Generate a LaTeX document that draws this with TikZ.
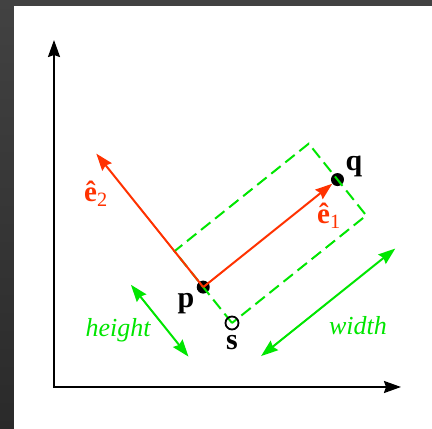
\documentclass[tikz,border=0pt]{standalone}
\usepackage{fontspec}
\setmainfont{Liberation Serif}
\usetikzlibrary{arrows.meta,positioning}
\definecolor{vecred}{RGB}{255,50,0}
\definecolor{boxgreen}{RGB}{0,230,0}

\begin{document}
\begin{tikzpicture}[x=1pt, y=1pt, >={Stealth[length=17pt, width=12pt, inset=2pt]},
  every node/.style={font=\fontsize{26}{30}\selectfont},
  ptlabel/.style={font=\fontsize{30}{34}\selectfont\bfseries},
  veclabel/.style={font=\fontsize{29}{33}\selectfont, text=vecred},
  dot/.style={circle, fill=black, inner sep=0pt, minimum size=13pt},
  hollow/.style={circle, draw=black, line width=1.8pt, inner sep=0pt, minimum size=13pt},
  axis/.style={<->, line width=2pt},
  unitvec/.style={->, draw=vecred, line width=2pt},
  extent/.style={<->, draw=boxgreen, line width=2pt},
  boxline/.style={draw=boxgreen, line width=2pt, dash pattern=on 12pt off 6pt}]
\shade[top color={rgb,255:red,66;green,66;blue,66}, bottom color={rgb,255:red,42;green,42;blue,42}] (0,0) rectangle (432,429);
\fill[white] (14,0) rectangle (432,423);
\useasboundingbox (0,0) rectangle (432,429);
\coordinate (O) at (54,42);
\coordinate (ytip) at (54,389);
\coordinate (xtip) at (401,42);
\draw[axis] (ytip) -- (O) -- (xtip);
\begin{scope}[shift={(232,106)}, rotate=38.7]
\node[dot] (p) at (0,46) {};
\node[dot] (q) at (172,46) {};
\draw[boxline] (0,0) rectangle (172,92);
\node[hollow] (s) at (0,0) {};
\coordinate (e2tip) at (0,217);
\coordinate (h0) at (-55,93);
\coordinate (h1) at (-55,1);
\coordinate (w0) at (2,-44);
\coordinate (w1) at (174,-44);
\end{scope}
\draw[unitvec] (p.center) -- (q);
\draw[unitvec] (p.center) -- (e2tip);
\draw[extent] (h0) -- (h1);
\draw[extent] (w0) -- (w1);
\node[ptlabel] (plabel) at (186,125) {p};
\node[ptlabel] (qlabel) at (354,263) {q};
\node[ptlabel, below=1pt of s] (slabel) {s};
\node[veclabel] (e1label) at (329,213) {\textbf{\^e}\textsubscript{1}};
\node[veclabel] (e2label) at (96,235) {\textbf{\^e}\textsubscript{2}};
\node[text=boxgreen] (heightlabel) at (118,99) {\itshape height};
\node[text=boxgreen] (widthlabel) at (358,103) {\itshape width};
\end{tikzpicture}
\end{document}
